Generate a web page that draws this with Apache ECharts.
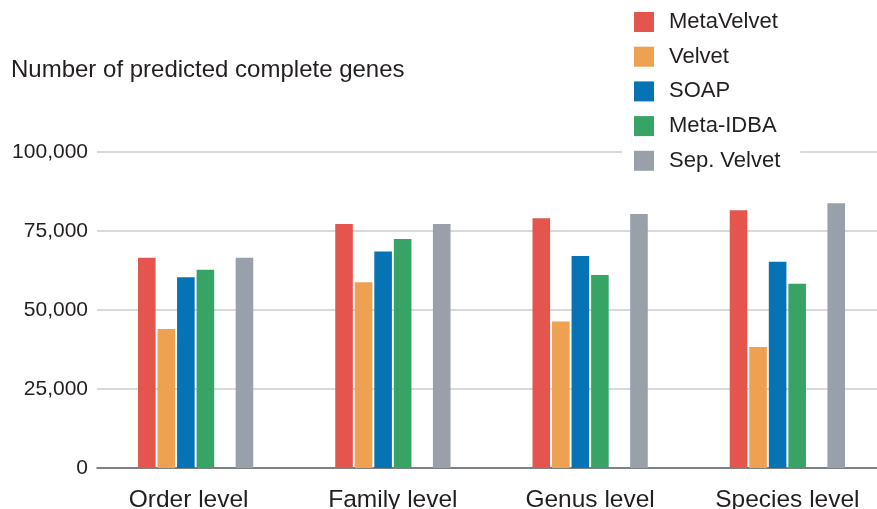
<!DOCTYPE html>
<html>
<head>
<meta charset="utf-8">
<script src="https://cdn.jsdelivr.net/npm/echarts@6/dist/echarts.min.js"></script>
<style>html,body{margin:0;padding:0;background:#fff}#c{width:877px;height:509px}</style>
</head>
<body>
<div id="c"></div>
<script>
var categories = ['Order level', 'Family level', 'Genus level', 'Species level'];
var metaVelvet = [66500, 77200, 79000, 81600];
var velvet = [44000, 58800, 46400, 38300];
var soap = [60400, 68500, 67100, 65300];
var metaIDBA = [62700, 72500, 61100, 58300];
var sepVelvet = [66500, 77200, 80400, 83800];
var emptySlot = [null, null, null, null];
var seriesNames = ['MetaVelvet', 'Velvet', 'SOAP', 'Meta-IDBA', 'Sep. Velvet'];
var yTicks = [0, 25000, 50000, 75000, 100000];

var colors = {
  'MetaVelvet': '#E4554D',
  'Velvet': '#EFA152',
  'SOAP': '#0673B5',
  'Meta-IDBA': '#37A465',
  'Sep. Velvet': '#99A0A9'
};
var font = 'Liberation Sans, Arial, Helvetica, sans-serif';

function bar(name, data) {
  return {
    name: name, type: 'bar', data: data,
    barWidth: 17.6, barGap: '11%',
    itemStyle: { color: colors[name] || '#fff' },
    emphasis: { disabled: true },
    animation: false
  };
}

var xData = categories.map(function (c, i) {
  return i === 0 ? { value: c, textStyle: { padding: [0, 14, 0, 0] } } : c;
});

var chart = echarts.init(document.getElementById('c'), null, { renderer: 'canvas' });
chart.setOption({
  animation: false,
  backgroundColor: '#fff',
  title: {
    text: 'Number of predicted complete genes',
    left: 11, top: 58, padding: 0,
    textStyle: { fontFamily: font, fontSize: 24, fontWeight: 'normal', color: '#231F20' }
  },
  legend: {
    data: seriesNames,
    orient: 'vertical',
    left: 622, top: 0,
    padding: [11, 20, 6, 12],
    backgroundColor: '#fff',
    itemWidth: 20, itemHeight: 20, itemGap: 12.7,
    icon: 'rect',
    selectedMode: false,
    textStyle: { fontFamily: font, fontSize: 22, color: '#231F20', lineHeight: 20, padding: [0, 0, 0, 10] }
  },
  grid: { left: 97, width: 789, top: 152, height: 316, containLabel: false, outerBoundsMode: 'none' },
  xAxis: {
    type: 'category',
    data: xData,
    axisLine: { show: true, lineStyle: { color: '#5F6468', width: 1.5 } },
    axisTick: { show: false },
    axisLabel: { fontFamily: font, fontSize: 24.5, color: '#231F20', margin: 20 },
    splitLine: { show: false }
  },
  yAxis: {
    type: 'value',
    min: yTicks[0], max: yTicks[yTicks.length - 1], interval: yTicks[1] - yTicks[0],
    axisLine: { show: false },
    axisTick: { show: false },
    axisLabel: {
      fontFamily: font, fontSize: 21, color: '#231F20', margin: 9,
      formatter: function (v) { return v.toLocaleString('en-US'); }
    },
    splitLine: { show: true, lineStyle: { color: '#C9CED4', width: 1.5 } }
  },
  series: [
    bar('MetaVelvet', metaVelvet),
    bar('Velvet', velvet),
    bar('SOAP', soap),
    bar('Meta-IDBA', metaIDBA),
    bar('', emptySlot),
    bar('Sep. Velvet', sepVelvet)
  ]
});
</script>
</body>
</html>
